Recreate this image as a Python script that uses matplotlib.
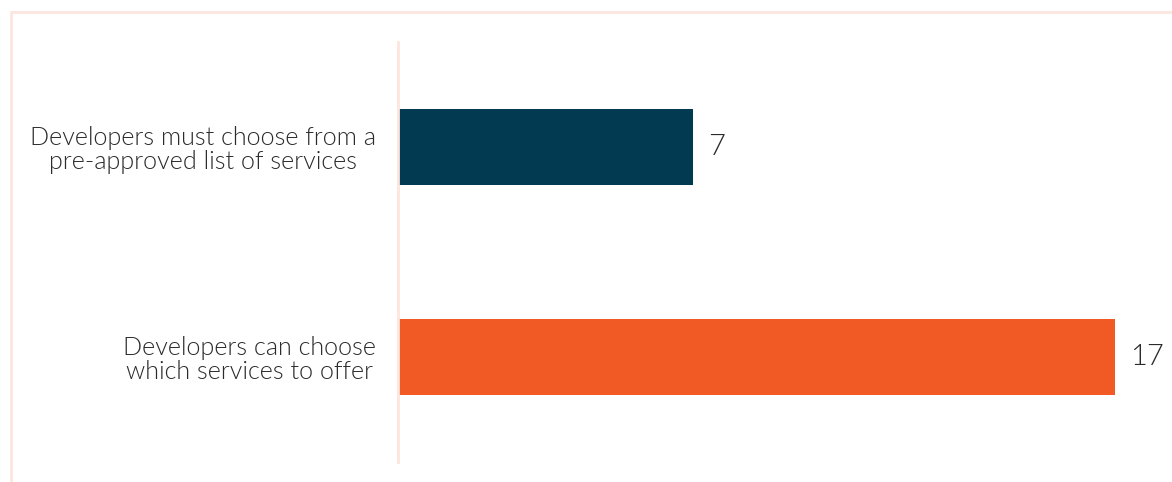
import matplotlib.pyplot as plt
from matplotlib.patches import Rectangle

categories = ['Developers must choose from a\npre-approved list of services',
              'Developers can choose\nwhich services to offer']
values = [7, 17]
colors = ['#023a51', '#f15a24']

W, H = 1172, 482
fig = plt.figure(figsize=(W / 100, H / 100), dpi=100)
plt.rcParams['font.family'] = ['Lato', 'DejaVu Sans']

# light frame around the chart
fig.patches.append(Rectangle((11 / W, -0.1), 1.2, 1 - 12 / H + 0.1, transform=fig.transFigure,
                             fill=False, edgecolor='#fde6de', linewidth=2))

ax = fig.add_axes([398 / W, 20 / H, (W - 398) / W, 420 / H])
y = list(range(len(values)))
ax.barh(y, values, height=0.36, color=colors)
ax.set_xlim(0, (W - 398) / 42.2)
ax.set_ylim(1.5, -0.5)

for s in ['top', 'right', 'bottom']:
    ax.spines[s].set_visible(False)
ax.spines['left'].set_color('#fde6de')
ax.spines['left'].set_linewidth(2)
ax.set_xticks([])
ax.set_yticks(y)
ax.set_yticklabels(categories, fontsize=18.1, fontweight=300, color='#2b2b2b',
                   ha='right', multialignment='center', linespacing=1.05)
ax.tick_params(axis='y', length=0, pad=15.5)

for yi, v in zip(y, values):
    ax.text(v + 0.35, yi, str(v), va='center', ha='left', fontsize=21, fontweight=300, color='#2b2b2b')

fig.savefig('out.png', dpi=100)
